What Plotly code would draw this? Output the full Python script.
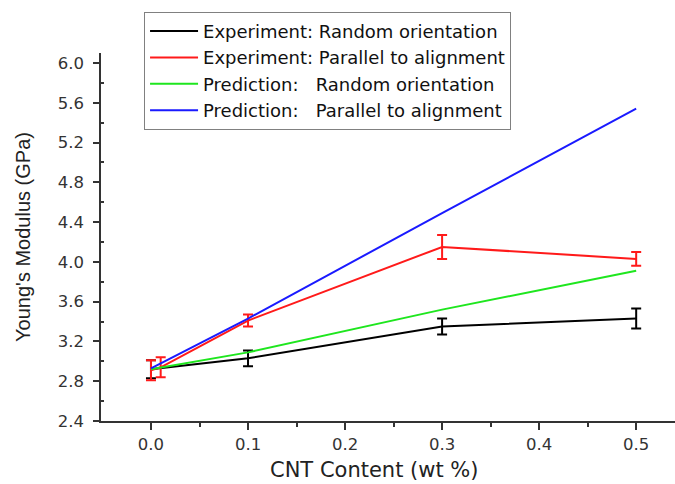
import plotly.graph_objects as go

# Data
exp_rand_x = [0.0, 0.1, 0.3, 0.5]
exp_rand_y = [2.92, 3.03, 3.35, 3.43]
exp_rand_err = [0.09, 0.08, 0.08, 0.10]

exp_par_x = [0.0, 0.01, 0.1, 0.3, 0.5]
exp_par_y = [2.91, 2.94, 3.41, 4.15, 4.03]
exp_par_err = [0.10, 0.10, 0.06, 0.12, 0.07]

pred_rand_x = [0.0, 0.1, 0.3, 0.5]
pred_rand_y = [2.92, 3.09, 3.52, 3.91]

pred_par_x = [0.0, 0.1, 0.3, 0.5]
pred_par_y = [2.93, 3.43, 4.49, 5.54]

x_ticks = [0.0, 0.1, 0.2, 0.3, 0.4, 0.5]
x_tick_labels = ["0.0", "0.1", "0.2", "0.3", "0.4", "0.5"]
x_minor = [0.05, 0.15, 0.25, 0.35, 0.45]
y_ticks = [2.4, 2.8, 3.2, 3.6, 4.0, 4.4, 4.8, 5.2, 5.6, 6.0]
y_tick_labels = ["2.4", "2.8", "3.2", "3.6", "4.0", "4.4", "4.8", "5.2", "5.6", "6.0"]
y_minor = [2.6, 3.0, 3.4, 3.8, 4.2, 4.6, 5.0, 5.4, 5.8]

names = [
    "Experiment: Random orientation",
    "Experiment: Parallel to alignment",
    "Prediction:\u00a0\u00a0 Random orientation",
    "Prediction:\u00a0\u00a0 Parallel to alignment",
]

wide_font = "DejaVu Sans, Verdana, sans-serif"
narrow_font = "Liberation Sans, Arial, sans-serif"
axis_col = "#333333"

fig = go.Figure()
fig.add_trace(go.Scatter(
    x=exp_rand_x, y=exp_rand_y, mode="lines", name=names[0],
    line=dict(color="#000000", width=2),
    error_y=dict(type="data", array=exp_rand_err, color="#000000", thickness=2, width=5),
))
fig.add_trace(go.Scatter(
    x=exp_par_x, y=exp_par_y, mode="lines", name=names[1],
    line=dict(color="#ff1a1a", width=2),
    error_y=dict(type="data", array=exp_par_err, color="#ff1a1a", thickness=2, width=5),
))
fig.add_trace(go.Scatter(
    x=pred_rand_x, y=pred_rand_y, mode="lines", name=names[2],
    line=dict(color="#1ee61e", width=2),
))
fig.add_trace(go.Scatter(
    x=pred_par_x, y=pred_par_y, mode="lines", name=names[3],
    line=dict(color="#1a1aff", width=2),
))

fig.update_layout(
    width=675, height=484,
    margin=dict(l=101, r=0, t=53, b=63),
    paper_bgcolor="white", plot_bgcolor="white",
    font=dict(family=wide_font, size=16, color="#222222"),
    showlegend=True,
    legend=dict(
        x=0.075, y=1.112, xanchor="left", yanchor="top",
        bgcolor="white", bordercolor="#808080", borderwidth=1,
        font=dict(family=wide_font, size=18, color="#111111"),
        tracegroupgap=0, itemwidth=48,
    ),
    xaxis=dict(
        range=[-0.0515, 0.54],
        tickmode="array", tickvals=x_ticks, ticktext=x_tick_labels,
        showgrid=False, zeroline=False,
        showline=True, linecolor=axis_col, linewidth=1.5,
        ticks="outside", ticklen=7, tickwidth=1.5, tickcolor=axis_col,
        minor=dict(tickvals=x_minor, ticks="outside", ticklen=4, tickwidth=1.5, tickcolor=axis_col),
        tickfont=dict(family=wide_font, size=16.5, color="#333333"),
    ),
    yaxis=dict(
        range=[2.4, 6.1],
        tickmode="array", tickvals=y_ticks, ticktext=y_tick_labels,
        showgrid=False, zeroline=False,
        showline=True, linecolor=axis_col, linewidth=1.5,
        ticks="outside", ticklen=6, tickwidth=1.5, tickcolor=axis_col,
        ticklabelstandoff=6,
        minor=dict(tickvals=y_minor, ticks="inside", ticklen=3, tickwidth=1.5, tickcolor=axis_col),
        tickfont=dict(family=wide_font, size=16.5, color="#333333"),
        title=dict(text="Young's Modulus (GPa)", font=dict(family=narrow_font, size=20, color="#222222"), standoff=22),
    ),
    annotations=[dict(
        text="CNT Content (wt %)", xref="paper", yref="paper",
        x=0.477, y=-0.133, xanchor="center", yanchor="middle", showarrow=False,
        font=dict(family=wide_font, size=21, color="#222222"),
    )],
)

fig.write_html("out.html")
